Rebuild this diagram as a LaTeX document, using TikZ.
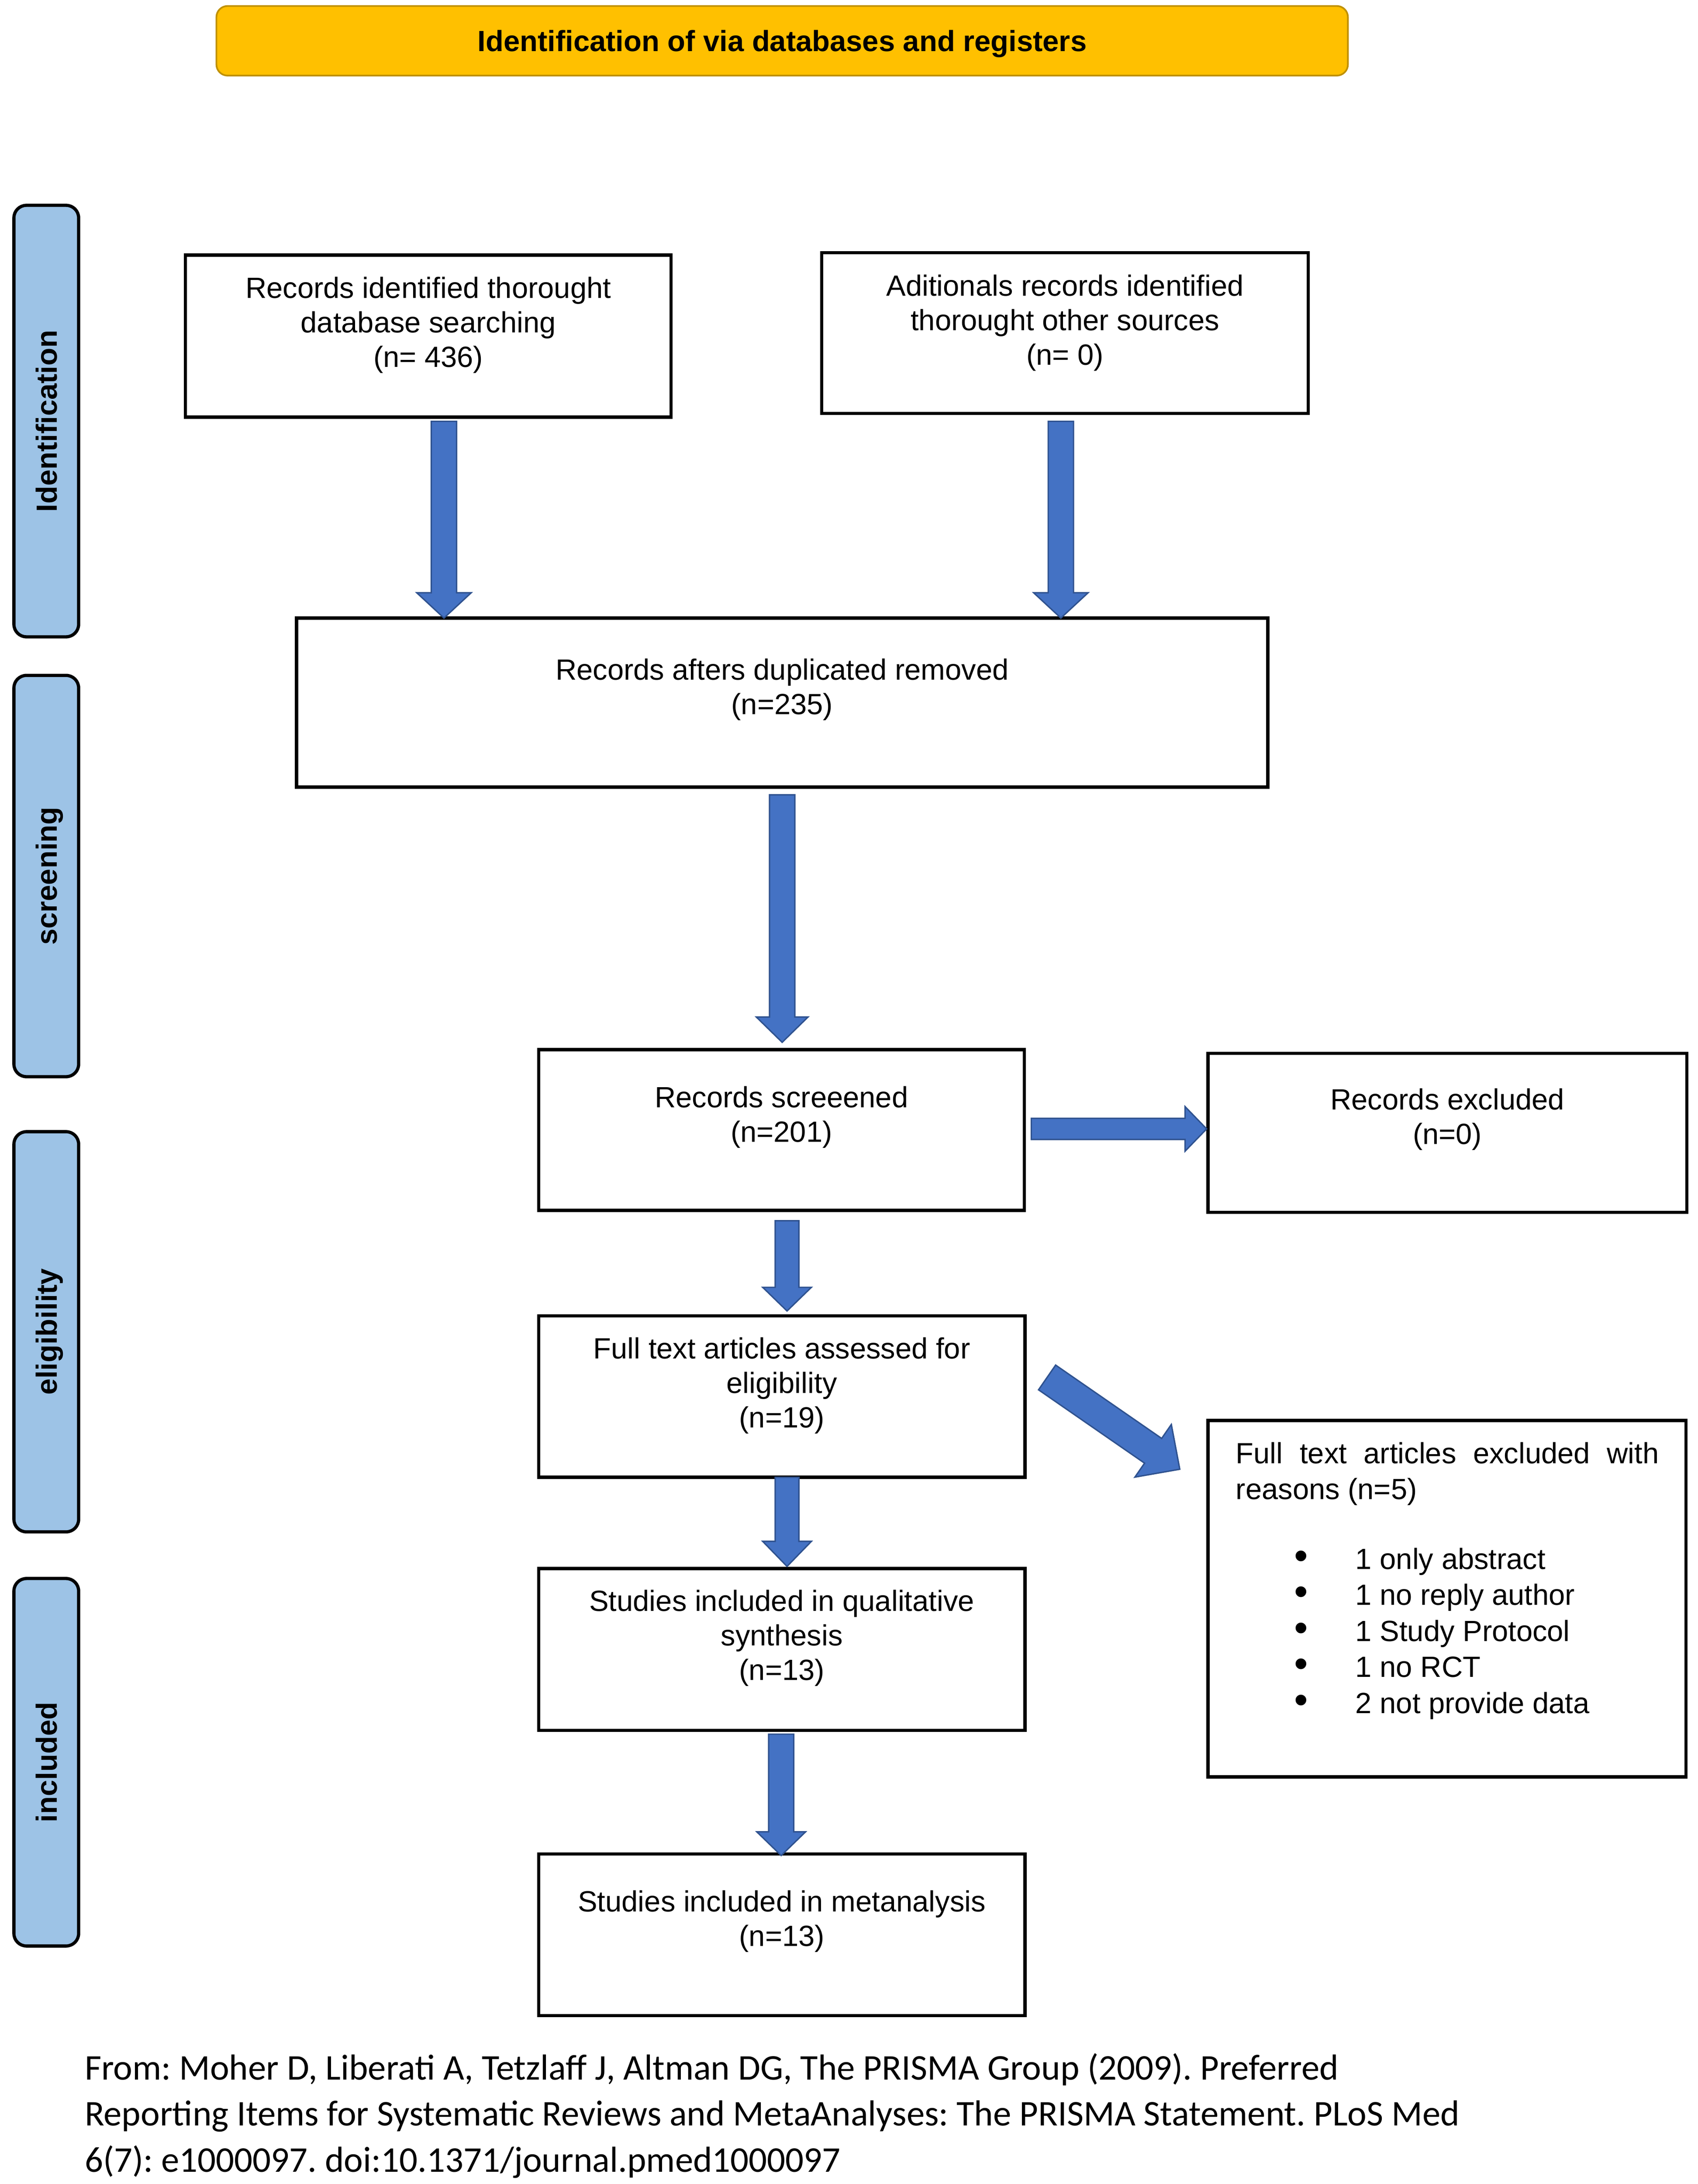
\documentclass[tikz,border=0pt]{standalone}
\usepackage{fontspec}
\setmainfont{Liberation Sans}
\newfontfamily\calibri{Carlito}
\usetikzlibrary{calc}
\definecolor{arrowfill}{HTML}{4472C4}
\definecolor{arrowline}{HTML}{2F528F}
\definecolor{bannerfill}{HTML}{FFC000}
\definecolor{bannerline}{HTML}{BF9000}
\definecolor{labelfill}{HTML}{9DC3E6}
\newcommand\flowtext[4]{\parbox[c][#2pt][t]{#1pt}{\centering\vspace*{#3pt}\strut #4}}
\newcommand\bulletline[1]{\moveright20pt\hbox{\hspace*{40pt}\makebox[14pt]{\scalebox{1.35}{•}}\hspace*{32pt}#1}}
\tikzset{
  flowbox/.style={draw=black, line width=2.3pt, fill=white, inner sep=0pt, outer sep=0pt,
    font=\fontsize{21}{24.8}\selectfont},
  phase/.style={draw=black, line width=2.3pt, fill=labelfill, rounded corners=9pt,
    inner sep=0pt, rotate=90, minimum height=46.5pt, text height=15.3pt, text depth=0pt,
    font=\fontsize{21}{25}\selectfont\bfseries},
  banner/.style={draw=bannerline, line width=1.2pt, fill=bannerfill, rounded corners=8pt,
    inner sep=0pt, minimum width=813pt, minimum height=50pt, text height=15.3pt, text depth=0pt,
    font=\fontsize{21}{25}\selectfont\bfseries},
  blockarrow/.style n args={3}{fill=arrowfill, draw=arrowline, line width=1pt, line join=miter,
    to path={
      ($(\tikztostart)!#1!90:(\tikztotarget)$)
      -- ($($(\tikztotarget)!#3!(\tikztostart)$)!#1!90:(\tikztotarget)$)
      -- ($($(\tikztotarget)!#3!(\tikztostart)$)!#2!90:(\tikztotarget)$)
      -- (\tikztotarget)
      -- ($($(\tikztotarget)!#3!(\tikztostart)$)!#2!-90:(\tikztotarget)$)
      -- ($($(\tikztotarget)!#3!(\tikztostart)$)!#1!-90:(\tikztotarget)$)
      -- ($(\tikztostart)!#1!-90:(\tikztotarget)$)
      -- cycle}},
  footer/.style={inner sep=0pt, anchor=base west}
}
\begin{document}
\begin{tikzpicture}[x=1pt,y=-1pt]
\useasboundingbox (0,0) rectangle (1220,1569);

% banner
\node[banner] (title) at (562,29.3) {Identification of via databases and registers};

% phase labels
\node[phase, minimum width=310pt] (ph1) at (33.25,302.5) {Identification};
\node[phase, minimum width=288.3pt] (ph2) at (33.25,629.35) {screening};
\node[phase, minimum width=287.5pt] (ph3) at (33.25,956.75) {eligibility};
\node[phase, minimum width=264pt] (ph4) at (33.25,1266) {included};

% boxes
\node[flowbox] (A) at (307.75,241.5) {\flowtext{349}{116.4}{13.6}{Records identified thorought\\database searching\\(n= 436)}};
\node[flowbox] (B) at (765.25,239.25) {\flowtext{349.5}{115.5}{13.6}{Aditionals records identified\\thorought other sources\\(n= 0)}};
\node[flowbox] (C) at (562,504.75) {\flowtext{697.9}{121.5}{27.2}{Records afters duplicated removed\\(n=235)}};
\node[flowbox] (D) at (561.5,811.75) {\flowtext{349}{115.5}{24.4}{Records screeened\\(n=201)}};
\node[flowbox] (E) at (1040,813.85) {\flowtext{344}{114.3}{23}{Records excluded\\(n=0)}};
\node[flowbox] (F) at (561.75,1003.3) {\flowtext{349.4}{116}{13.3}{Full text articles assessed for\\eligibility\\(n=19)}};
\node[flowbox] (G) at (1039.75,1148.5) {\parbox[c][256pt][t]{343.5pt}{%
    \hrule height0pt depth0pt width343.5pt
    \vspace*{13.5pt}%
    \baselineskip=24.2pt
    \moveright20pt\hbox to 304pt{\strut Full\hfill text\hfill articles\hfill excluded\hfill with}%
    \moveright20pt\hbox{\strut reasons (n=5)}%
    \baselineskip=25.9pt
    \vskip24.2pt
    \bulletline{1 only abstract}%
    \bulletline{1 no reply author}%
    \bulletline{1 Study Protocol}%
    \bulletline{1 no RCT}%
    \bulletline{2 not provide data}%
  }};
\node[flowbox] (H) at (561.75,1184.9) {\flowtext{349.4}{116.2}{13.3}{Studies included in qualitative\\synthesis\\(n=13)}};
\node[flowbox] (I) at (561.75,1390) {\flowtext{349.4}{116}{24}{Studies included in metanalysis\\(n=13)}};

% arrow end points
\coordinate (a1) at ($(A.south)+(11.25,3)$);
\coordinate (a2) at (a1 |- C.north);
\coordinate (b1) at ($(B.south)+(-3,5.7)$);
\coordinate (b2) at (b1 |- C.north);
\coordinate (c1) at ($(C.south)+(0,5.5)$);
\coordinate (c2) at ($(c1 |- D.north)+(0,-5.2)$);
\coordinate (d1) at ($(D.east)+(5,-0.75)$);
\coordinate (d2) at ($(d1 -| E.west)+(-1,0)$);
\coordinate (d3) at ($(D.south)+(4,7.5)$);
\coordinate (d4) at ($(d3 |- F.north)+(0,-3.5)$);
\coordinate (f1) at ($(F.east)+(15.9,-13.75)$);
\coordinate (f2) at ($(G.north west)+(-20.3,35)$);
\coordinate (f3) at ($(F.south)+(3.75,0)$);
\coordinate (f4) at ($(f3 |- H.north)+(0,-1.5)$);
\coordinate (h1) at ($(H.south)+(-0.45,2.8)$);
\coordinate (h2) at ($(h1 |- I.north)+(0,1)$);

% block arrows
\draw[blockarrow={9.1pt}{19.6pt}{18.2pt}] (a1) to (a2);
\draw[blockarrow={9.1pt}{19.6pt}{18.2pt}] (b1) to (b2);
\draw[blockarrow={9.1pt}{18.6pt}{18.2pt}] (c1) to (c2);
\draw[blockarrow={7.6pt}{16pt}{15.5pt}] (d1) to (d2);
\draw[blockarrow={8.5pt}{17.5pt}{17pt}] (d3) to (d4);
\draw[blockarrow={10.8pt}{23pt}{23.3pt}] (f1) to (f2);
\draw[blockarrow={8.5pt}{17.5pt}{18pt}] (f3) to (f4);
\draw[blockarrow={9pt}{17.5pt}{17pt}] (h1) to (h2);

% footer
\node[footer, font=\calibri\fontsize{26}{33}\selectfont] (ref) at (60.7,1494.2) {\parbox[t]{1150pt}{\raggedright\frenchspacing
From: Moher D, Liberati A, Tetzlaff J, Altman DG, The PRISMA Group (2009). Preferred\\
Reporting Items for Systematic Reviews and MetaAnalyses: The PRISMA Statement. PLoS Med\\
6(7): e1000097. doi:10.1371/journal.pmed1000097}};
\end{tikzpicture}
\end{document}
